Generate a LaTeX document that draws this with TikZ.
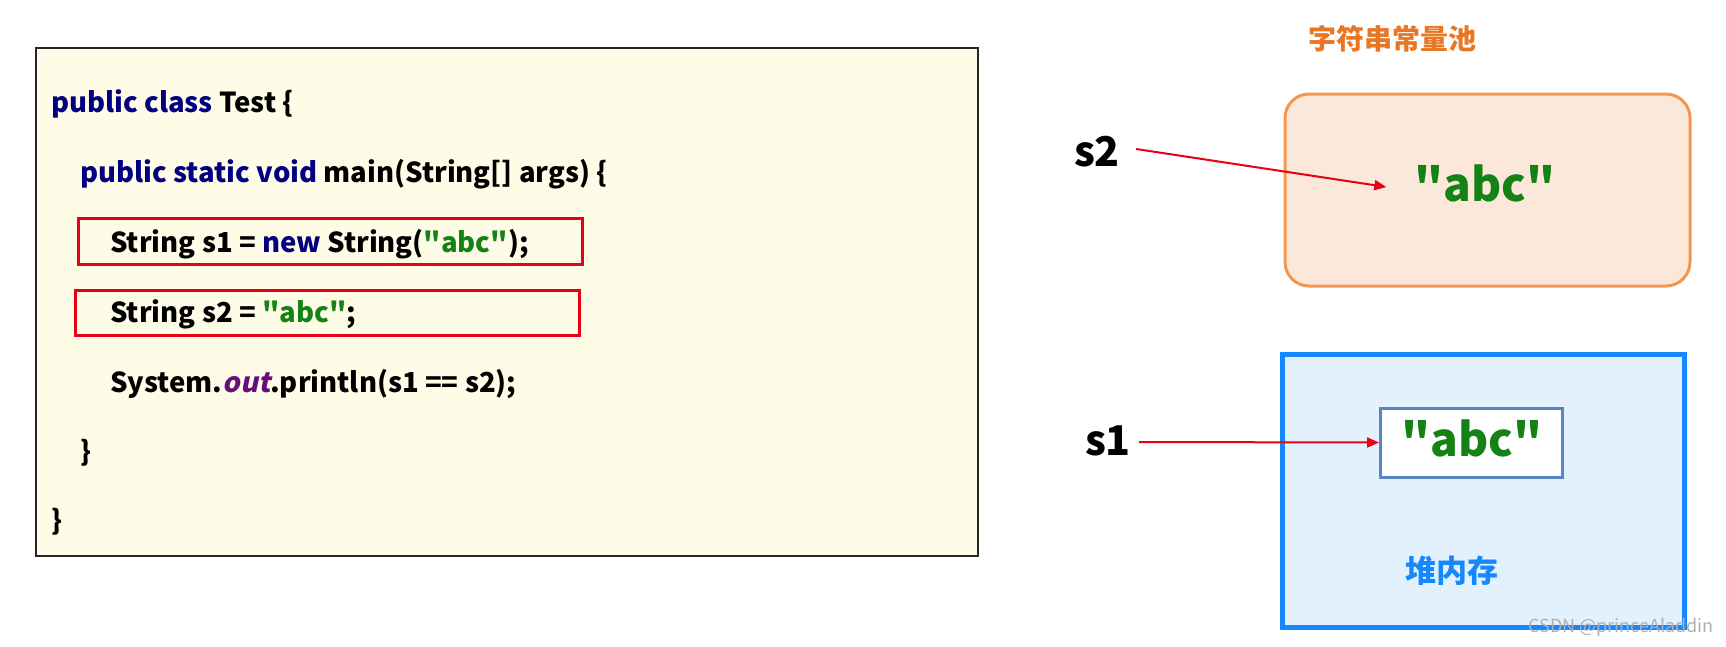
\documentclass[tikz,border=0pt]{standalone}
\usepackage{fontspec}
\setmainfont{Noto Sans CJK SC}[Ligatures=TeXOff]
\newfontfamily\slantfont{Noto Sans CJK SC}[FakeSlant=0.22,Ligatures=TeXOff]
\usetikzlibrary{arrows.meta}
\newcommand{\qq}{\symbol{34}}
\definecolor{kw}{RGB}{0,0,128}
\definecolor{strg}{RGB}{20,130,20}
\definecolor{fieldc}{RGB}{102,14,122}
\definecolor{codebg}{RGB}{254,252,230}
\definecolor{redl}{RGB}{232,0,20}
\definecolor{orangel}{RGB}{244,150,80}
\definecolor{orangefill}{RGB}{252,232,218}
\definecolor{orangetxt}{RGB}{232,118,36}
\definecolor{bluel}{RGB}{22,136,255}
\definecolor{bluefill}{RGB}{227,240,253}
\definecolor{innerl}{RGB}{88,134,192}
\definecolor{wm}{RGB}{175,175,175}
\begin{document}
\begin{tikzpicture}[x=1pt,y=-1pt,
  codeline/.style={anchor=base west, inner sep=0pt, font=\fontsize{27.5}{32}\selectfont\bfseries},
  hl/.style={draw=redl, line width=3pt},
  arr/.style={draw=redl, line width=2pt, -{Triangle[length=12pt,width=10pt]}},
  bigabc/.style={text=strg, font=\fontsize{46}{52}\selectfont\bfseries, inner sep=0pt},
  varname/.style={font=\fontsize{41}{46}\selectfont\bfseries, inner sep=0pt}]
\useasboundingbox (0,0) rectangle (1726,646);
% code box
\node (code) [draw=black!85, line width=1.5pt, fill=codebg, anchor=north west,
  minimum width=942pt, minimum height=508pt, inner sep=0pt] at (35,47) {};
\node (hl1) [hl, anchor=north west, minimum width=504pt, minimum height=46pt, inner sep=0pt] at (77,217) {};
\node (hl2) [hl, anchor=north west, minimum width=504pt, minimum height=45pt, inner sep=0pt] at (74,289) {};
\node (l1) [codeline] at (51,112) {\textcolor{kw}{public class} Test \{};
\node (l2) [codeline] at (80,182) {\textcolor{kw}{public static void} main(String[] args) \{};
\node (l3) [codeline] at (110,252) {String s1 = \textcolor{kw}{new} String(\textcolor{strg}{\qq abc\qq});};
\node (l4) [codeline] at (110,322) {String s2 = \textcolor{strg}{\qq abc\qq};};
\node (l5) [codeline] at (110,392) {System.\textcolor{fieldc}{\slantfont\bfseries out}.println(s1 == s2);};
\node (l6) [codeline] at (80,461) {\}};
\node (l7) [codeline] at (51,530) {\}};
% string pool
\node (pooltitle) [text=orangetxt, font=\fontsize{28}{32}\selectfont\bfseries] at (1392,39) {字符串常量池};
\node (pool) [draw=orangel, line width=3pt, fill=orangefill, rounded corners=24pt,
  minimum width=405pt, minimum height=192pt] at (1487.5,190) {};
\node (poolabc) [bigabc] at (1485,183) {\qq abc\qq};
\node (s2) [varname] at (1097,152) {s2};
\draw[arr] ([xshift=16pt,yshift=3pt]s2.east) -- ([xshift=-28pt,yshift=-4pt]poolabc.west);
% heap
\node (heap) [draw=bluel, line width=5pt, fill=bluefill,
  minimum width=402pt, minimum height=273pt] at (1483,490.5) {};
\node (inner) [draw=innerl, line width=3pt, fill=white,
  minimum width=182pt, minimum height=69pt] at (1471.5,442.5) {};
\node (heapabc) [bigabc] at (1472,438) {\qq abc\qq};
\node (heaptitle) [text=bluel, font=\fontsize{31}{35}\selectfont\bfseries] at (1452,571) {堆内存};
\node (s1) [varname] at (1108,441) {s1};
\draw[arr] ([xshift=8pt,yshift=-1pt]s1.east) -- (inner.west);
% watermark
\node (wmark) [text=wm, font=\fontsize{18}{20}\selectfont] at (1621,627) {CSDN @princeAladdin};
\end{tikzpicture}
\end{document}
